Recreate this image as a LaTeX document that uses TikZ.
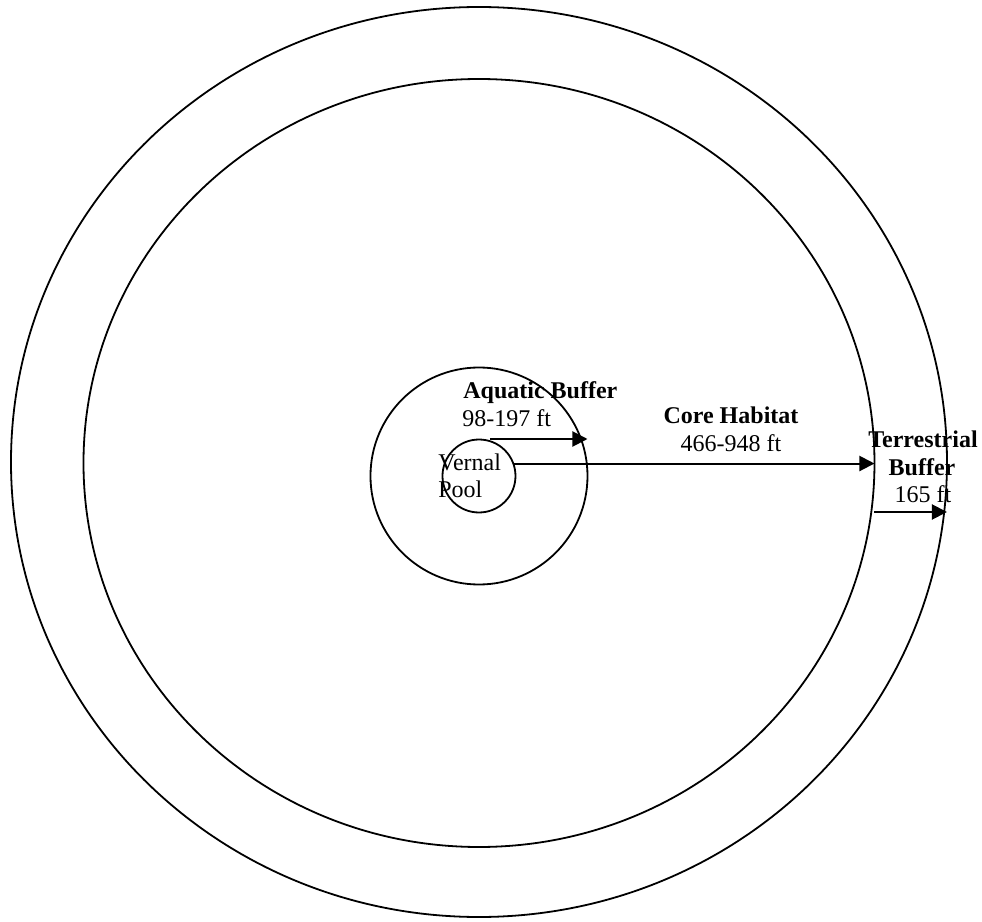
\documentclass[tikz,border=0pt]{standalone}
\usepackage{fontspec}
\setmainfont{Liberation Serif}
\usetikzlibrary{shapes.geometric, arrows.meta}

\begin{document}
\begin{tikzpicture}[x=0.5pt, y=0.5pt,
    zone/.style={draw, line width=0.9pt, inner sep=0pt, outer sep=0pt},
    reach/.style={-{Triangle[length=7.5pt,width=7.5pt]}, line width=1pt},
    lbl/.style={font=\fontsize{12}{14}\selectfont\bfseries, inner sep=0pt},
    dist/.style={font=\fontsize{12}{14}\selectfont, inner sep=0pt}]
    \useasboundingbox (-479,-446) rectangle (503,476);

    % Zones
    \node[zone, ellipse, minimum width=468pt, minimum height=455pt] (terr) at (0,14) {};
    \node[zone, ellipse, minimum width=395.5pt, minimum height=384pt] (core) at (0,13) {};
    \node[zone, circle, minimum size=108.5pt] (aqua) at (0,0) {};
    \node[zone, circle, minimum size=36.5pt] (pool) at (0,0) {};

    % Arrows
    \coordinate (aqS) at (11,37);
    \coordinate (trS) at (core.east |- 0,-36);
    \draw[reach] (aqS) -- (aqua.east |- aqS);
    \draw[reach] (pool.20) -- (pool.20 -| core.east);
    \draw[reach] (trS) -- (terr.east |- trS);

    % Labels
    \node[lbl, anchor=base west] (aqT) at (-16,77) {Aquatic Buffer};
    \node[dist, anchor=base west] (aqD) at (-17,49) {98-197 ft};
    \node[lbl, anchor=base] (coT) at (252,53) {Core Habitat};
    \node[dist, anchor=base] (coD) at (252,25) {466-948 ft};
    \node[lbl, anchor=base] (trT1) at (444,29) {Terrestrial};
    \node[lbl, anchor=base] (trT2) at (443,1) {Buffer};
    \node[dist, anchor=base] (trD) at (444,-26) {165 ft};
    \node[dist, anchor=base west] (vp1) at (-41,5) {Vernal};
    \node[dist, anchor=base west] (vp2) at (-41,-21) {Pool};
\end{tikzpicture}
\end{document}
